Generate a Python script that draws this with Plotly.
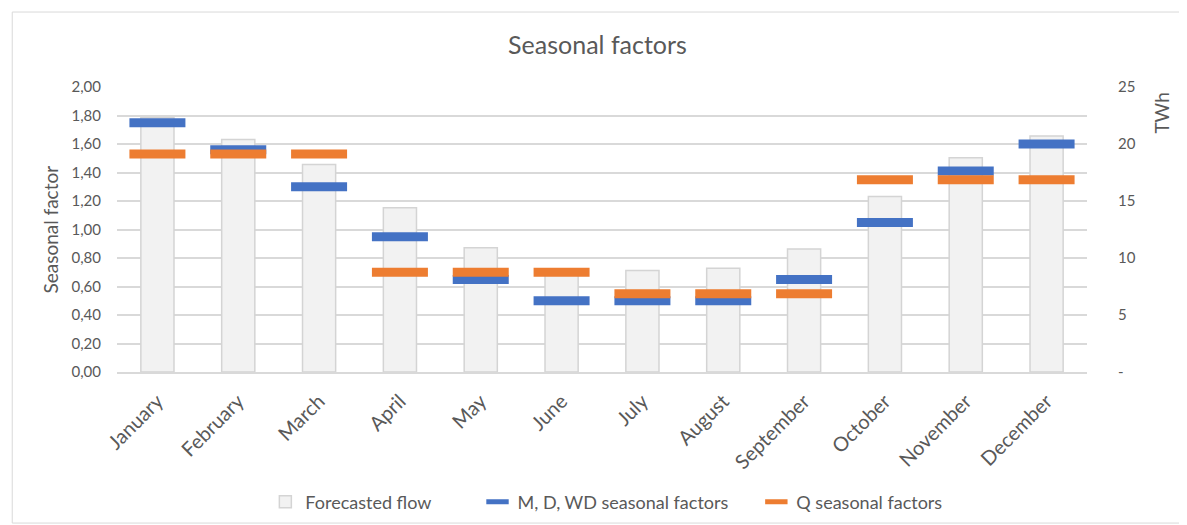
import plotly.graph_objects as go

months = ["January", "February", "March", "April", "May", "June", "July",
          "August", "September", "October", "November", "December"]
flow_twh = [22.3, 20.4, 18.2, 14.4, 10.9, 9.0, 8.9, 9.1, 10.8, 15.4, 18.8, 20.7]
mdwd_factors = [1.75, 1.56, 1.30, 0.95, 0.65, 0.50, 0.50, 0.50, 0.65, 1.05, 1.41, 1.60]
q_factors = [1.53, 1.53, 1.53, 0.70, 0.70, 0.70, 0.55, 0.55, 0.55, 1.35, 1.35, 1.35]

left_ticks = [0, 0.2, 0.4, 0.6, 0.8, 1.0, 1.2, 1.4, 1.6, 1.8, 2.0]
left_labels = ["0,00", "0,20", "0,40", "0,60", "0,80", "1,00", "1,20", "1,40", "1,60", "1,80", "2,00"]
right_ticks = [0, 5, 10, 15, 20, 25]
right_labels = ["-", "5", "10", "15", "20", "25"]

FONT = "Lato"
GRAY = "#595959"
NB = "\u00a0"

# page body has an 8px margin; compensate
W, H = 1179, 517

fig = go.Figure()
fig.add_trace(go.Bar(
    x=months, y=flow_twh, name="Forecasted flow" + NB * 9, yaxis="y",
    width=0.41, marker=dict(color="#f2f2f2", line=dict(color="#d4d4d4", width=1.5)),
))
fig.add_trace(go.Scatter(
    x=months, y=mdwd_factors, name="M, D, WD seasonal factors" + NB * 5, yaxis="y2",
    mode="markers",
    marker=dict(symbol="line-ew", size=40, color="#4472c4", line=dict(color="#4472c4", width=9)),
))
fig.add_trace(go.Scatter(
    x=months, y=q_factors, name="Q seasonal factors", yaxis="y2",
    mode="markers",
    marker=dict(symbol="line-ew", size=40, color="#ed7d31", line=dict(color="#ed7d31", width=9)),
))

fig.update_layout(
    width=W, height=H,
    margin=dict(l=109, r=100, t=79, b=153, autoexpand=False),
    paper_bgcolor="white", plot_bgcolor="white",
    font=dict(family=FONT, color=GRAY, size=15),
    title=dict(text="Seasonal factors", x=0.5, xanchor="center", y=1 - 37 / H, yanchor="middle",
               font=dict(family=FONT, size=25, color=GRAY)),
    xaxis=dict(range=[-0.5, 11.5], tickangle=-45, showgrid=False, showline=True,
               linecolor="#d9d9d9", linewidth=1.5,
               ticks="outside", ticklen=8, tickcolor="rgba(0,0,0,0)", automargin=False,
               tickfont=dict(size=20, color=GRAY)),
    yaxis=dict(side="right", range=[0, 25], tickvals=right_ticks, ticktext=right_labels,
               showgrid=False, zeroline=False, ticks="", automargin=False, ticklabelstandoff=30,
               tickfont=dict(size=15, color=GRAY)),
    yaxis2=dict(overlaying="y", side="left", range=[0, 2], tickvals=left_ticks, ticktext=left_labels,
                showgrid=True, gridcolor="#d9d9d9", gridwidth=1.5, zeroline=False, ticks="",
                automargin=False, ticklabelstandoff=15, tickfont=dict(size=15, color=GRAY)),
    legend=dict(orientation="h", x=0.505, xanchor="center", y=-0.456, yanchor="middle",
                font=dict(size=18, color=GRAY), traceorder="normal", itemwidth=30),
    showlegend=True,
)

fig.add_annotation(text="Seasonal factor", xref="paper", yref="paper", x=-0.069, y=0.5,
                   xanchor="center", yanchor="middle",
                   textangle=-90, showarrow=False, font=dict(size=19, color=GRAY, family=FONT))
fig.add_annotation(text="TWh", xref="paper", yref="paper", x=1.077, y=0.909,
                   xanchor="center", yanchor="middle",
                   textangle=-90, showarrow=False, font=dict(size=19, color=GRAY, family=FONT))

fig.add_shape(type="rect", xref="paper", yref="paper", x0=-0.108, x1=1.096, y0=-0.53, y1=1.263,
              line=dict(color="#d9d9d9", width=1), layer="below")

fig.write_html("out.html")
